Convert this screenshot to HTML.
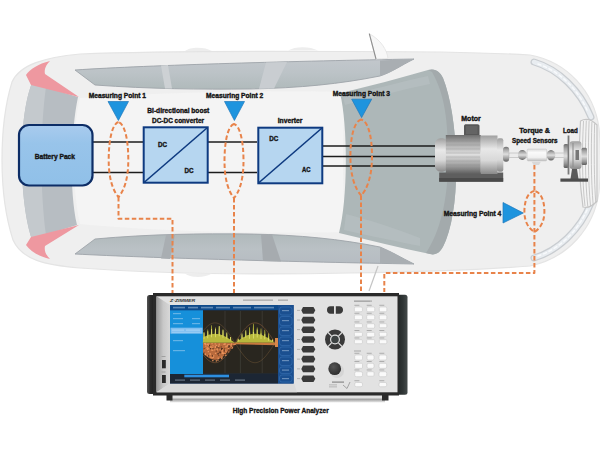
<!DOCTYPE html>
<html><head><meta charset="utf-8">
<style>
html,body{margin:0;padding:0;background:#fff;width:600px;height:450px;overflow:hidden}
svg{display:block}
text{font-family:"Liberation Sans",sans-serif;font-weight:bold;fill:#151515;stroke:#151515;stroke-width:0.35px}
</style></head><body>
<svg width="600" height="450" viewBox="0 0 600 450">
<defs>
<linearGradient id="bp" x1="0" y1="0" x2="0" y2="1"><stop offset="0" stop-color="#a9cbee"/><stop offset="0.3" stop-color="#98c4ea"/><stop offset="1" stop-color="#90c0e8"/></linearGradient>
<linearGradient id="cyl" x1="0" y1="0" x2="0" y2="1"><stop offset="0" stop-color="#6e6e6e"/><stop offset="0.2" stop-color="#a8a8a8"/><stop offset="0.5" stop-color="#dedede"/><stop offset="0.8" stop-color="#9a9a9a"/><stop offset="1" stop-color="#5e5e5e"/></linearGradient>
<linearGradient id="cyl2" x1="0" y1="0" x2="0" y2="1"><stop offset="0" stop-color="#a0a0a0"/><stop offset="0.35" stop-color="#e8e8e8"/><stop offset="0.65" stop-color="#d8d8d8"/><stop offset="1" stop-color="#8a8a8a"/></linearGradient>
<linearGradient id="hdl" x1="0" y1="0" x2="1" y2="0"><stop offset="0" stop-color="#555"/><stop offset="0.4" stop-color="#2c2c2c"/><stop offset="1" stop-color="#1e1e1e"/></linearGradient>
<linearGradient id="gray3" x1="0" y1="0" x2="1" y2="0"><stop offset="0" stop-color="#b9bfc2"/><stop offset="1" stop-color="#b2b8bb"/></linearGradient>
<linearGradient id="winT" x1="0" y1="0" x2="0" y2="1"><stop offset="0" stop-color="#c2c7cc"/><stop offset="0.45" stop-color="#bcc3c7"/><stop offset="1" stop-color="#b0babb"/></linearGradient><linearGradient id="winB" x1="0" y1="1" x2="0" y2="0"><stop offset="0" stop-color="#b6bcc2"/><stop offset="0.5" stop-color="#bac1c5"/><stop offset="1" stop-color="#b0b9bb"/></linearGradient>
<radialGradient id="knob" cx="0.4" cy="0.35" r="0.7"><stop offset="0" stop-color="#555"/><stop offset="1" stop-color="#2a2a2a"/></radialGradient>
</defs>
<rect width="600" height="450" fill="#fff"/>

<!-- ===== car body ===== -->
<path d="M80,54 C150,51 250,51 350,51.5 C420,51.5 480,52 530,55 C568,62 594,92 599,128 C601,148 601,172 599,192 C594,228 568,258 530,266 C480,270 420,272 350,273 C250,275 150,273 80,268 C45,265 22,260 13,240 C4,212 2,185 2,160 C2,135 4,108 12,82 C20,64 45,57.5 80,54 Z" fill="#efefef" stroke="#e4e4e4" stroke-width="1.2"/>
<g fill="#ededed"><path d="M185,51 C190,46.5 205,46.5 212,51 Z"/><path d="M288,50.5 C295,46 310,46 318,50.5 Z"/><path d="M185,273.5 C190,278 205,278 212,273.5 Z"/></g>
<!-- cabin light -->
<path d="M80,98 C160,92 280,90 346,92 C342,130 342,190 346,232 C280,234 160,232 80,224 C72,190 72,130 80,98 Z" fill="#f4f4f4"/>
<!-- rear gray band -->
<path d="M32,83 L78,97 C71,130 69,190 77,225 L32,239 C20,205 17,120 32,83 Z" fill="#b7bdc2"/>
<path d="M32,83 L46,87 C40,130 40,190 46,235 L32,239 C20,205 17,120 32,83 Z" fill="#c4c9cd"/>
<!-- tail lights -->
<path d="M26,75 C30,69 38,64 50,61 C46,65 44,69 45,74 L79,97 L31,85 Z" fill="#ee98a0"/>
<path d="M26,245 C30,251 38,256 50,259 C46,255 44,251 45,246 L79,225 L31,237 Z" fill="#ee98a0"/>
<!-- top window -->
<path d="M75,70 C150,65 300,61 414,59 C400,66 392,72 380,76 C340,84 300,88 250,89 C200,89.5 150,89 95,85 Z" fill="url(#winT)" stroke="#9ea4a9" stroke-width="0.9"/>
<path d="M161,65.5 L168,65 L172,88.5 L165,88.5 Z" fill="#cdd1d4"/>
<path d="M266,62.5 L287,62 L274,88.5 L259,88.8 Z" fill="#c9cdd1"/>
<path d="M380,76 C392,72 400,66 414,59 L380,60.5 Z" fill="#a9aeb2"/>
<!-- bottom window -->
<path d="M75,254 C150,258 300,262 414,264 C400,257 392,252 380,247 C340,239 300,235 250,234 C200,233.5 150,234 95,239 Z" fill="url(#winB)" stroke="#9ea4a9" stroke-width="0.9"/>
<path d="M161,258.5 L170,259 L175,235 L166,235 Z" fill="#a9aeb2"/>
<path d="M263,261 L281,261.5 L272,234.5 L261,234.3 Z" fill="#a6abaf"/>
<path d="M380,247 C392,252 400,257 414,264 L380,263 Z" fill="#a9aeb2"/>
<!-- mirror -->
<path d="M369.3,33.7 L376,59 L388,58.5 C387,50 381,40 369.3,33.7 Z" fill="#f7f7f7" stroke="#e2e2e2" stroke-width="0.8"/><path d="M369.3,33.7 L376,59" stroke="#8e8e8e" stroke-width="1.1"/>
<path d="M369,291 L378,266" stroke="#c4c4c4" stroke-width="1.2"/>
<!-- gray interior (firewall) -->
<path d="M341,93 C370,86 400,78 428,70 C436,68 440,72 443,78 C458,115 462,200 446,240 C442,250 438,256 430,254 C400,248 370,240 339,233 C348,200 348,125 340,93 Z" fill="#adb7b8"/>
<path d="M428,70 C436,68 440,72 443,78 C458,115 462,200 446,240 C442,250 438,256 430,254 L426,253 C440,232 448,200 448,160 C448,120 445,95 432,72 Z" fill="#a3aaac"/>
<path d="M343,97 C370,90 400,82 428,76 L430,84 C400,90 372,98 345,105 Z" fill="#bcc3c5" opacity="0.5"/>
<path d="M346,214 C370,220 400,230 420,238 L420,246 C400,242 370,236 344,230 Z" fill="#bcc3c5" opacity="0.5"/>
<!-- headlights -->
<g fill="none" stroke-linecap="round">
<path d="M534,62 C558,69 580,90 591,117" stroke="#c9cdd1" stroke-width="7"/>
<path d="M534,62 C558,69 580,90 591,117" stroke="#e9edf1" stroke-width="4.5"/>
<path d="M538,64 C559,71 577,88 587,110" stroke="#f8fafc" stroke-width="1.5" stroke-dasharray="3,3"/>
<path d="M534,258 C558,251 580,230 591,203" stroke="#c9cdd1" stroke-width="7"/>
<path d="M534,258 C558,251 580,230 591,203" stroke="#e9edf1" stroke-width="4.5"/>
<path d="M538,256 C559,249 577,232 587,210" stroke="#f8fafc" stroke-width="1.5" stroke-dasharray="3,3"/>
</g>
<!-- grille -->
<path d="M580.5,121 C586,118 592,120 597,125 L597,201 C592,207 587,208 583,207 C579,180 578.5,150 580.5,121 Z" fill="#f3f3f3" stroke="#c6c6c6" stroke-width="1.2"/>
<g stroke="#c2c2c2" stroke-width="0.9" fill="none">
<path d="M583.5,121 C582,150 582,180 585,206"/><path d="M586.3,120.5 C585,150 585,180 587.8,206.5"/><path d="M589.1,121 C588,150 588,180 590.5,206"/><path d="M591.9,122 C591,150 591,180 593.2,205"/><path d="M594.6,123.5 C594,150 594,180 595.8,203"/>
</g>
<!-- ===== power lines ===== -->
<g stroke="#1c1c1c" stroke-width="1.7">
<line x1="92" y1="142" x2="143" y2="142"/><line x1="92" y1="172.5" x2="143" y2="172.5"/>
<line x1="208" y1="142" x2="257" y2="142"/><line x1="208" y1="172.5" x2="257" y2="172.5"/>
<line x1="323" y1="146" x2="437" y2="146"/><line x1="323" y1="156.5" x2="437" y2="156.5"/><line x1="323" y1="166" x2="437" y2="166"/>
</g>

<!-- ===== blocks ===== -->
<rect x="19" y="125" width="73.5" height="60.5" rx="10" fill="url(#bp)" stroke="#0d2d66" stroke-width="2.2"/>
<rect x="143.7" y="127.3" width="64" height="55.4" fill="#b6d6f0" stroke="#0e3a80" stroke-width="2"/>
<line x1="144" y1="182.5" x2="207.5" y2="127.5" stroke="#0e3a80" stroke-width="1.6"/>
<rect x="258.3" y="127.7" width="64" height="55.6" fill="#b6d6f0" stroke="#0e3a80" stroke-width="2"/>
<line x1="258.5" y1="183" x2="322" y2="128" stroke="#0e3a80" stroke-width="1.6"/>

<!-- ===== texts ===== -->
<g font-size="6.3">
<text x="34.7" y="159" textLength="40.3" lengthAdjust="spacingAndGlyphs">Battery Pack</text>
<text x="158" y="146.7" textLength="9" lengthAdjust="spacingAndGlyphs">DC</text>
<text x="184.4" y="173.3" textLength="9" lengthAdjust="spacingAndGlyphs">DC</text>
<text x="269.3" y="140.7" textLength="9" lengthAdjust="spacingAndGlyphs">DC</text>
<text x="302" y="171.8" textLength="8.5" lengthAdjust="spacingAndGlyphs">AC</text>
<text x="88.7" y="97.7" textLength="57.3" lengthAdjust="spacingAndGlyphs">Measuring Point 1</text>
<text x="206" y="97.7" textLength="57.3" lengthAdjust="spacingAndGlyphs">Measuring Point 2</text>
<text x="332.7" y="95.7" textLength="57.3" lengthAdjust="spacingAndGlyphs">Measuring Point 3</text>
<text x="443.7" y="215.7" textLength="57.6" lengthAdjust="spacingAndGlyphs">Measuring Point 4</text>
<text x="147.3" y="112.9" textLength="62" lengthAdjust="spacingAndGlyphs">Bi-directional boost</text>
<text x="152" y="122.7" textLength="52" lengthAdjust="spacingAndGlyphs">DC-DC converter</text>
<text x="277.7" y="122.7" textLength="24.7" lengthAdjust="spacingAndGlyphs">Inverter</text>
<text x="461.3" y="120.7" textLength="19.4" lengthAdjust="spacingAndGlyphs">Motor</text>
<text x="519.2" y="133.3" textLength="30.8" lengthAdjust="spacingAndGlyphs">Torque  &amp;</text>
<text x="512" y="143" textLength="45.5" lengthAdjust="spacingAndGlyphs">Speed Sensors</text>
<text x="563" y="132.5" textLength="14.8" lengthAdjust="spacingAndGlyphs">Load</text>
</g>
<text x="232.7" y="413" font-size="7" textLength="96" lengthAdjust="spacingAndGlyphs">High Precision Power Analyzer</text>

<!-- ===== triangles ===== -->
<g fill="#1e94de" stroke="#1f78bc" stroke-width="0.7" stroke-linejoin="round">
<path d="M108,101.5 L128.5,101.5 L118.4,120.5 Z"/>
<path d="M224.5,101.5 L244.5,101.5 L234.4,120.5 Z"/>
<path d="M351.7,99.2 L371.7,99.2 L361.6,117.6 Z"/>
<path d="M503,202.5 L523.3,213 L503,223 Z"/>
</g>

<!-- ===== dashed lenses & lines ===== -->
<g fill="none" stroke="#e8834a" stroke-width="2" stroke-dasharray="4.5,2.5" stroke-linejoin="round">
<path d="M118.5,122 C112.4,123.9 108.7,139.1 108.7,160.0 C108.7,180.3 113.6,191.4 118.5,197 C123.4,191.4 128.3,180.3 128.3,160.0 C128.3,139.1 124.6,123.9 118.5,122 Z"/>
<path d="M234,124 C228.1,125.8 224.5,140.7 224.5,161.0 C224.5,181.3 229.2,192.4 234,198 C238.8,192.4 243.5,181.3 243.5,161.0 C243.5,140.7 239.9,125.8 234,124 Z"/>
<path d="M361.2,119.5 C354.5,121.3 350.4,135.9 350.4,156.0 C350.4,177.7 355.8,189.6 361.2,195.5 C366.6,189.6 372.0,177.7 372.0,156.0 C372.0,135.9 367.9,121.3 361.2,119.5 Z"/>
<path d="M534.4,191 C528.2,192.0 524.4,200.2 524.4,211.5 C524.4,222.8 529.4,228.9 534.4,232 C539.4,228.9 544.4,222.8 544.4,211.5 C544.4,200.2 540.6,192.0 534.4,191 Z"/>
<path d="M118.5,197 L118.5,218.7 L172.5,218.7 L172.5,293"/>
<path d="M234,198 L234,293"/>
<path d="M361,195.5 L361,292"/>
<path d="M534.4,165 L534.4,273 L384.3,273 L384.3,292"/>
</g>

<!-- ===== motor ===== -->
<path d="M464,135.8 L464,126 C464,124.8 465,124.2 466,124.2 L477.5,124.2 C478.7,124.2 479.5,125 479.5,126 L479.5,135.8 Z" fill="#585858"/>
<rect x="466" y="126" width="11.5" height="8" fill="#646464"/>
<rect x="439.2" y="172.5" width="64" height="9.2" fill="#5e5e5e"/>
<rect x="439.2" y="178" width="64" height="3.7" fill="#4a4a4a"/>
<rect x="435" y="138.3" width="13" height="33.4" rx="5.5" fill="url(#cyl2)"/>
<rect x="445.8" y="135" width="35" height="39" fill="url(#cyl)"/>
<g stroke="#8a8a8a" stroke-width="0.45" opacity="0.7"><line x1="446" y1="141" x2="480" y2="141"/><line x1="446" y1="145" x2="480" y2="145"/><line x1="446" y1="149" x2="480" y2="149"/><line x1="446" y1="153" x2="480" y2="153"/><line x1="446" y1="157" x2="480" y2="157"/><line x1="446" y1="161" x2="480" y2="161"/><line x1="446" y1="165" x2="480" y2="165"/><line x1="446" y1="169" x2="480" y2="169"/></g>
<rect x="480.8" y="135.5" width="16.7" height="38.5" fill="url(#cyl2)"/>
<rect x="497" y="138.3" width="6.3" height="33.4" rx="2" fill="url(#cyl2)"/>
<rect x="503" y="146.7" width="6.2" height="15" rx="3" fill="url(#cyl)"/>
<rect x="509" y="153" width="56" height="4.3" fill="#ececec" stroke="#a8a8a8" stroke-width="0.5"/>
<!-- torque sensor -->
<ellipse cx="522.3" cy="155" rx="4.4" ry="5" fill="url(#cyl)"/>
<ellipse cx="551" cy="155.2" rx="4.3" ry="5.2" fill="url(#cyl)"/>
<defs><linearGradient id="tq" x1="0" y1="0" x2="0" y2="1"><stop offset="0" stop-color="#dcdcdc"/><stop offset="0.3" stop-color="#fafafa"/><stop offset="0.7" stop-color="#f0f0f0"/><stop offset="1" stop-color="#bcbcbc"/></linearGradient></defs><rect x="527.2" y="149" width="19.5" height="12" rx="1" fill="url(#tq)" stroke="#c4c4c4" stroke-width="0.5"/>
<path d="M531.7,161.7 L540.8,161.7 L539,165 L533.5,165 Z" fill="#d8d8d8"/>
<!-- load -->
<path d="M572,169 L577,169 L578.5,179 L570.5,179 Z" fill="#5a5a5a"/>
<rect x="560.4" y="178.5" width="27.6" height="3.2" fill="#4e4e4e"/>
<rect x="563.6" y="144" width="5" height="24" rx="1.5" fill="url(#cyl)"/>
<rect x="567.6" y="135.5" width="1.8" height="39" fill="#7a7a7a"/>
<rect x="569.5" y="141.3" width="12" height="27.7" rx="3" fill="url(#cyl2)"/>
<rect x="572.5" y="143" width="1" height="24" fill="#8a8a8a"/>
<rect x="575.5" y="150" width="3.5" height="10" fill="#777"/>
<rect x="581.5" y="147.7" width="5.5" height="17.3" rx="1.5" fill="url(#cyl)"/>
<!-- ===== analyzer ===== -->
<defs>
<linearGradient id="base" x1="0" y1="0" x2="0" y2="1"><stop offset="0" stop-color="#e4e4e4"/><stop offset="0.4" stop-color="#e0e0e0"/><stop offset="0.55" stop-color="#9c9c9c"/><stop offset="1" stop-color="#ececec"/></linearGradient>
<linearGradient id="bevL" x1="0" y1="0" x2="1" y2="0"><stop offset="0" stop-color="#9a9a9a"/><stop offset="0.5" stop-color="#c8c8c8"/><stop offset="1" stop-color="#d8d8d8"/></linearGradient>
<linearGradient id="hdlR" x1="0" y1="0" x2="1" y2="0"><stop offset="0" stop-color="#1f2323"/><stop offset="0.6" stop-color="#2f3535"/><stop offset="1" stop-color="#454b4b"/></linearGradient>
</defs>
<rect x="170" y="395" width="215" height="7.5" fill="url(#base)"/>
<rect x="166.5" y="394" width="6" height="6.5" fill="#2a2a2a"/>
<rect x="382" y="394" width="6.5" height="6.5" fill="#2a2a2a"/>
<rect x="147" y="295" width="8" height="99" rx="2.5" fill="url(#hdl)"/>
<rect x="396" y="294.7" width="11.5" height="100" rx="2.5" fill="url(#hdlR)"/>
<rect x="153" y="293" width="246" height="102.5" fill="#2a2a2a"/>
<rect x="156.5" y="296.3" width="241" height="96" fill="#e2e2e2"/>
<path d="M156.5,296.3 L170,305 L170,383.5 L156.5,392.3 Z" fill="url(#bevL)"/>
<path d="M156.5,392.3 L170,383.5 L294,383.5 L297,392.3 Z" fill="#dadada"/>
<rect x="162" y="360" width="3.8" height="8.3" fill="#2a2a2a"/><rect x="162" y="375" width="3.8" height="8" fill="#2a2a2a"/>
<rect x="161.5" y="356" width="4" height="1" fill="#a0a0a0"/><rect x="161.5" y="371.5" width="4" height="1" fill="#a0a0a0"/>
<!-- screen -->
<rect x="170" y="305" width="123.6" height="78.5" fill="#123c78"/>
<rect x="170" y="305" width="108" height="5.3" fill="#0f4a8a"/>
<rect x="170" y="310.3" width="33" height="63.7" fill="#1690da"/>
<rect x="170.5" y="327.7" width="32" height="6" fill="#80bff0"/>
<rect x="203" y="310.3" width="75" height="63.5" fill="#29261f"/>
<rect x="278" y="305" width="15.6" height="78.5" fill="#1a4f90"/>
<g fill="none" stroke="#3f78bb" stroke-width="0.5">
<rect x="279.5" y="307" width="12.5" height="8" rx="2.5"/><rect x="279.5" y="316.5" width="12.5" height="9" rx="2.5"/><rect x="279.5" y="327" width="12.5" height="8.5" rx="2.5"/><rect x="279.5" y="337" width="12.5" height="8.5" rx="2.5"/><rect x="279.5" y="347" width="12.5" height="8.5" rx="2.5"/><rect x="279.5" y="357" width="12.5" height="8.5" rx="2.5"/><rect x="279.5" y="367" width="12.5" height="6.5" rx="2.5"/><rect x="279.5" y="375" width="12.5" height="7" rx="2.5"/>
</g>
<rect x="170" y="374" width="108" height="9.5" fill="#1c2634"/>
<rect x="184.3" y="374.7" width="44.7" height="2.6" fill="#2d8fe0"/>
<g stroke="#4d4b44" stroke-width="0.5"><line x1="225" y1="311" x2="225" y2="373"/><line x1="240.4" y1="311" x2="240.4" y2="373"/><line x1="262.2" y1="311" x2="262.2" y2="373"/></g>
<g fill="#d8e8f8" opacity="0.4">
<rect x="173" y="306.8" width="12" height="1.6"/><rect x="188" y="306.8" width="10" height="1.6"/><rect x="201" y="306.8" width="12" height="1.6"/><rect x="216" y="306.8" width="14" height="1.6"/><rect x="233" y="306.8" width="18" height="1.6"/><rect x="254" y="306.8" width="20" height="1.6"/>
<rect x="173" y="313" width="8" height="1.2"/><rect x="173" y="318" width="10" height="1.2"/><rect x="192" y="318" width="8" height="1.2"/><rect x="173" y="323" width="10" height="1.2"/><rect x="192" y="323" width="8" height="1.2"/><rect x="173" y="340" width="10" height="1.2"/><rect x="173" y="350" width="12" height="1.2"/>
<rect x="282" y="310" width="7" height="1.2"/><rect x="282" y="320" width="7" height="1.2"/><rect x="282" y="330" width="7" height="1.2"/><rect x="282" y="340" width="7" height="1.2"/><rect x="282" y="350" width="7" height="1.2"/><rect x="282" y="360" width="7" height="1.2"/><rect x="282" y="369.5" width="7" height="1.2"/><rect x="282" y="378" width="7" height="1.2"/>
<rect x="175" y="379.5" width="10" height="1.2"/><rect x="190" y="379.5" width="10" height="1.2"/><rect x="205" y="379.5" width="10" height="1.2"/><rect x="220" y="379.5" width="10" height="1.2"/><rect x="235" y="379.5" width="10" height="1.2"/>
</g>
<g fill="#b8dcf8" opacity="0.7"><rect x="172" y="329.5" width="12" height="1.2"/><rect x="186" y="329.5" width="14" height="1.2"/><rect x="172" y="331.8" width="28" height="0.8"/></g>
<!-- waveform -->
<path d="M203,342.8 L203.0,352.8 L203.5,353.3 L204.0,353.8 L204.5,354.3 L205.0,354.8 L205.5,355.3 L206.0,355.7 L206.5,356.2 L207.0,356.6 L207.5,356.9 L208.0,357.3 L208.5,357.6 L209.0,357.9 L209.5,358.2 L210.0,358.5 L210.5,358.7 L211.0,359.0 L211.5,359.2 L212.0,359.3 L212.5,359.5 L213.0,359.6 L213.5,359.7 L214.0,359.7 L214.5,359.8 L215.0,359.8 L215.5,359.8 L216.0,359.7 L216.5,359.7 L217.0,359.6 L217.5,359.5 L218.0,359.3 L218.5,359.2 L219.0,359.0 L219.5,358.7 L220.0,358.5 L220.5,358.2 L221.0,357.9 L221.5,357.6 L222.0,357.3 L222.5,356.9 L223.0,356.6 L223.5,356.2 L224.0,355.7 L224.5,355.3 L225.0,354.8 L225.5,354.3 L226.0,353.8 L226.5,353.3 L227.0,352.8 L227.5,352.2 L228.0,351.7 L228.5,351.1 L229.0,350.5 L229.5,349.9 L230.0,349.3 L230.5,348.7 L231.0,348.1 L231.5,347.4 L232.0,346.8 L232.5,346.1 L233.0,345.5 L233.5,344.8 L234.0,344.1 L234.5,343.5 L235.0,342.8 L235,342.8 Z" fill="#b86a3c"/>
<path d="M215.7,360.3 h1.3 v1.3 h-1.3 Z M204.5,353.3 h1.3 v1.3 h-1.3 Z M212.3,345.3 h1.3 v1.3 h-1.3 Z M206.8,347.2 h1.3 v1.3 h-1.3 Z M229.1,344.3 h1.3 v1.3 h-1.3 Z M221.6,352.8 h1.3 v1.3 h-1.3 Z M214.9,352.7 h1.3 v1.3 h-1.3 Z M205.0,343.6 h1.3 v1.3 h-1.3 Z M209.6,354.0 h1.3 v1.3 h-1.3 Z M216.7,348.4 h1.3 v1.3 h-1.3 Z M221.7,349.8 h1.3 v1.3 h-1.3 Z M212.6,356.8 h1.3 v1.3 h-1.3 Z M225.4,345.8 h1.3 v1.3 h-1.3 Z M221.4,351.1 h1.3 v1.3 h-1.3 Z M231.0,346.9 h1.3 v1.3 h-1.3 Z M212.2,360.0 h1.3 v1.3 h-1.3 Z M206.8,348.8 h1.3 v1.3 h-1.3 Z M227.2,344.4 h1.3 v1.3 h-1.3 Z M218.6,343.5 h1.3 v1.3 h-1.3 Z M224.4,353.0 h1.3 v1.3 h-1.3 Z M221.3,356.6 h1.3 v1.3 h-1.3 Z M213.0,355.2 h1.3 v1.3 h-1.3 Z M222.0,351.7 h1.3 v1.3 h-1.3 Z M217.6,357.6 h1.3 v1.3 h-1.3 Z M233.2,344.0 h1.3 v1.3 h-1.3 Z M224.3,343.6 h1.3 v1.3 h-1.3 Z M225.4,350.7 h1.3 v1.3 h-1.3 Z M234.8,343.1 h1.3 v1.3 h-1.3 Z M212.1,349.6 h1.3 v1.3 h-1.3 Z M224.4,343.1 h1.3 v1.3 h-1.3 Z M217.8,345.8 h1.3 v1.3 h-1.3 Z M206.7,343.6 h1.3 v1.3 h-1.3 Z M227.6,344.1 h1.3 v1.3 h-1.3 Z M210.9,349.5 h1.3 v1.3 h-1.3 Z M230.9,343.3 h1.3 v1.3 h-1.3 Z M217.4,352.5 h1.3 v1.3 h-1.3 Z M231.3,347.1 h1.3 v1.3 h-1.3 Z M230.6,344.5 h1.3 v1.3 h-1.3 Z M216.3,349.2 h1.3 v1.3 h-1.3 Z M231.3,347.7 h1.3 v1.3 h-1.3 Z M207.8,345.5 h1.3 v1.3 h-1.3 Z M210.4,346.7 h1.3 v1.3 h-1.3 Z M218.5,353.0 h1.3 v1.3 h-1.3 Z M211.4,342.9 h1.3 v1.3 h-1.3 Z M216.4,349.4 h1.3 v1.3 h-1.3 Z M221.1,358.0 h1.3 v1.3 h-1.3 Z M225.1,349.3 h1.3 v1.3 h-1.3 Z M222.8,352.8 h1.3 v1.3 h-1.3 Z M204.7,354.0 h1.3 v1.3 h-1.3 Z M228.0,351.1 h1.3 v1.3 h-1.3 Z M228.5,346.2 h1.3 v1.3 h-1.3 Z M215.8,344.7 h1.3 v1.3 h-1.3 Z M223.3,343.7 h1.3 v1.3 h-1.3 Z M205.2,345.5 h1.3 v1.3 h-1.3 Z M208.2,348.1 h1.3 v1.3 h-1.3 Z M204.7,342.8 h1.3 v1.3 h-1.3 Z M207.8,344.3 h1.3 v1.3 h-1.3 Z M214.6,343.3 h1.3 v1.3 h-1.3 Z M231.0,346.2 h1.3 v1.3 h-1.3 Z M207.8,346.6 h1.3 v1.3 h-1.3 Z M214.1,349.3 h1.3 v1.3 h-1.3 Z M206.9,355.1 h1.3 v1.3 h-1.3 Z M234.8,342.9 h1.3 v1.3 h-1.3 Z M218.5,344.3 h1.3 v1.3 h-1.3 Z M206.3,347.6 h1.3 v1.3 h-1.3 Z M211.5,357.2 h1.3 v1.3 h-1.3 Z M208.2,343.2 h1.3 v1.3 h-1.3 Z M233.4,344.0 h1.3 v1.3 h-1.3 Z M207.7,351.0 h1.3 v1.3 h-1.3 Z M203.9,348.9 h1.3 v1.3 h-1.3 Z M234.3,343.6 h1.3 v1.3 h-1.3 Z M225.3,346.1 h1.3 v1.3 h-1.3 Z M214.7,345.8 h1.3 v1.3 h-1.3 Z M227.7,348.0 h1.3 v1.3 h-1.3 Z M227.9,345.9 h1.3 v1.3 h-1.3 Z M210.1,356.4 h1.3 v1.3 h-1.3 Z M234.5,343.4 h1.3 v1.3 h-1.3 Z M228.8,349.7 h1.3 v1.3 h-1.3 Z M226.7,345.3 h1.3 v1.3 h-1.3 Z M219.6,348.8 h1.3 v1.3 h-1.3 Z M203.9,343.1 h1.3 v1.3 h-1.3 Z M211.9,347.3 h1.3 v1.3 h-1.3 Z M225.2,354.8 h1.3 v1.3 h-1.3 Z M217.3,359.4 h1.3 v1.3 h-1.3 Z M234.6,343.3 h1.3 v1.3 h-1.3 Z M214.7,346.8 h1.3 v1.3 h-1.3 Z M210.3,346.1 h1.3 v1.3 h-1.3 Z M209.5,353.0 h1.3 v1.3 h-1.3 Z M231.8,346.6 h1.3 v1.3 h-1.3 Z M218.3,354.2 h1.3 v1.3 h-1.3 Z" fill="#e8925a"/>
<path d="M228.6,345.3 h1.2 v1.2 h-1.2 Z M224.1,353.9 h1.2 v1.2 h-1.2 Z M228.0,349.5 h1.2 v1.2 h-1.2 Z M218.3,347.2 h1.2 v1.2 h-1.2 Z M228.3,346.8 h1.2 v1.2 h-1.2 Z M228.6,350.3 h1.2 v1.2 h-1.2 Z M215.7,350.4 h1.2 v1.2 h-1.2 Z M233.3,345.2 h1.2 v1.2 h-1.2 Z M208.4,346.3 h1.2 v1.2 h-1.2 Z M207.8,355.2 h1.2 v1.2 h-1.2 Z M228.8,345.6 h1.2 v1.2 h-1.2 Z M229.4,349.5 h1.2 v1.2 h-1.2 Z M224.0,348.4 h1.2 v1.2 h-1.2 Z M220.6,346.4 h1.2 v1.2 h-1.2 Z M203.5,352.4 h1.2 v1.2 h-1.2 Z M223.8,350.2 h1.2 v1.2 h-1.2 Z M232.9,345.1 h1.2 v1.2 h-1.2 Z M230.9,347.3 h1.2 v1.2 h-1.2 Z M209.8,348.0 h1.2 v1.2 h-1.2 Z M212.4,348.1 h1.2 v1.2 h-1.2 Z M221.8,347.9 h1.2 v1.2 h-1.2 Z M216.4,346.6 h1.2 v1.2 h-1.2 Z M232.1,345.4 h1.2 v1.2 h-1.2 Z M217.7,352.8 h1.2 v1.2 h-1.2 Z M231.9,345.6 h1.2 v1.2 h-1.2 Z M232.4,345.4 h1.2 v1.2 h-1.2 Z M220.0,351.5 h1.2 v1.2 h-1.2 Z M203.6,348.3 h1.2 v1.2 h-1.2 Z M208.9,344.8 h1.2 v1.2 h-1.2 Z M228.6,345.8 h1.2 v1.2 h-1.2 Z M218.2,354.6 h1.2 v1.2 h-1.2 Z M220.8,348.8 h1.2 v1.2 h-1.2 Z M219.6,352.0 h1.2 v1.2 h-1.2 Z M228.1,345.5 h1.2 v1.2 h-1.2 Z M220.9,347.9 h1.2 v1.2 h-1.2 Z M211.9,355.2 h1.2 v1.2 h-1.2 Z M219.2,352.2 h1.2 v1.2 h-1.2 Z M227.3,351.3 h1.2 v1.2 h-1.2 Z M217.2,353.2 h1.2 v1.2 h-1.2 Z M219.2,351.5 h1.2 v1.2 h-1.2 Z" fill="#5a3420"/>
<path d="M203,342.8 L203.0,337.5 L203.5,337.2 L204.0,337.0 L204.5,336.7 L205.0,336.4 L205.5,336.2 L206.0,336.0 L206.5,335.7 L207.0,335.5 L207.5,335.3 L208.0,335.1 L208.5,334.9 L209.0,334.8 L209.5,334.6 L210.0,334.5 L210.5,334.4 L211.0,334.2 L211.5,334.1 L212.0,334.0 L212.5,334.0 L213.0,333.9 L213.5,333.9 L214.0,333.8 L214.5,333.8 L215.0,333.8 L215.5,333.8 L216.0,333.8 L216.5,333.9 L217.0,333.9 L217.5,334.0 L218.0,334.0 L218.5,334.1 L219.0,334.2 L219.5,334.4 L220.0,334.5 L220.5,334.6 L221.0,334.8 L221.5,334.9 L222.0,335.1 L222.5,335.3 L223.0,335.5 L223.5,335.7 L224.0,336.0 L224.5,336.2 L225.0,336.4 L225.5,336.7 L226.0,337.0 L226.5,337.2 L227.0,337.5 L227.5,337.8 L228.0,338.1 L228.5,338.4 L229.0,338.7 L229.5,339.0 L230.0,339.4 L230.5,339.7 L231.0,340.0 L231.5,340.4 L232.0,340.7 L232.5,341.0 L233.0,341.4 L233.5,341.7 L234.0,342.1 L234.5,342.4 L235.0,342.8 L235.5,342.4 L236.0,342.1 L236.5,341.7 L237.0,341.4 L237.5,341.0 L238.0,340.7 L238.5,340.4 L239.0,340.0 L239.5,339.7 L240.0,339.4 L240.5,339.0 L241.0,338.7 L241.5,338.4 L242.0,338.1 L242.5,337.8 L243.0,337.5 L243.5,337.2 L244.0,337.0 L244.5,336.7 L245.0,336.4 L245.5,336.2 L246.0,336.0 L246.5,335.7 L247.0,335.5 L247.5,335.3 L248.0,335.1 L248.5,334.9 L249.0,334.8 L249.5,334.6 L250.0,334.5 L250.5,334.4 L251.0,334.2 L251.5,334.1 L252.0,334.0 L252.5,334.0 L253.0,333.9 L253.5,333.9 L254.0,333.8 L254.5,333.8 L255.0,333.8 L255.5,333.8 L256.0,333.8 L256.5,333.9 L257.0,333.9 L257.5,334.0 L258.0,334.0 L258.5,334.1 L259.0,334.2 L259.5,334.4 L260.0,334.5 L260.5,334.6 L261.0,334.8 L261.5,334.9 L262.0,335.1 L262.5,335.3 L263.0,335.5 L263.5,335.7 L264.0,336.0 L264.5,336.2 L265.0,336.4 L265.5,336.7 L266.0,337.0 L266.5,337.2 L267.0,337.5 L267.5,337.8 L268.0,338.1 L268.5,338.4 L269.0,338.7 L269.5,339.0 L270.0,339.4 L270.5,339.7 L271.0,340.0 L271.5,340.4 L272.0,340.7 L272.5,341.0 L273.0,341.4 L273.5,341.7 L274.0,342.1 L274.5,342.4 L275.0,342.8 L275.5,342.4 L276.0,342.1 L276.5,341.7 L277.0,341.4 L277,342.8 Z M202.8,342.8 L203.7,332.0 L204.3,332.0 L205.2,342.8 Z M206.6,342.8 L207.5,329.5 L208.1,329.5 L209.0,342.8 Z M210.4,342.8 L211.3,325.2 L211.9,325.2 L212.8,342.8 Z M214.2,342.8 L215.1,327.4 L215.7,327.4 L216.6,342.8 Z M218.0,342.8 L218.9,326.1 L219.5,326.1 L220.4,342.8 Z M221.8,342.8 L222.7,329.2 L223.3,329.2 L224.2,342.8 Z M225.6,342.8 L226.5,333.6 L227.1,333.6 L228.0,342.8 Z M229.4,342.8 L230.3,336.9 L230.9,336.9 L231.8,342.8 Z M237.0,342.8 L237.9,338.5 L238.5,338.5 L239.4,342.8 Z M240.8,342.8 L241.7,334.8 L242.3,334.8 L243.2,342.8 Z M244.6,342.8 L245.5,331.2 L246.1,331.2 L247.0,342.8 Z M248.4,342.8 L249.3,327.2 L249.9,327.2 L250.8,342.8 Z M252.2,342.8 L253.1,323.8 L253.7,323.8 L254.6,342.8 Z M256.0,342.8 L256.9,327.4 L257.5,327.4 L258.4,342.8 Z M259.8,342.8 L260.7,328.4 L261.3,328.4 L262.2,342.8 Z M263.6,342.8 L264.5,329.8 L265.1,329.8 L266.0,342.8 Z M267.4,342.8 L268.3,333.3 L268.9,333.3 L269.8,342.8 Z M271.2,342.8 L272.1,339.2 L272.7,339.2 L273.6,342.8 Z" fill="#b8b83c"/>
<path d="M203.6,332.7 h0.8 v6.1 h-0.8 Z M207.4,331.3 h0.8 v6.9 h-0.8 Z M211.2,329.0 h0.8 v8.3 h-0.8 Z M215.0,329.0 h0.8 v8.3 h-0.8 Z M218.8,326.2 h0.8 v10.0 h-0.8 Z M222.6,330.2 h0.8 v7.6 h-0.8 Z M226.4,332.6 h0.8 v6.1 h-0.8 Z M230.2,336.9 h0.8 v3.6 h-0.8 Z M237.8,339.2 h0.8 v2.2 h-0.8 Z M241.6,333.6 h0.8 v5.5 h-0.8 Z M245.4,330.3 h0.8 v7.5 h-0.8 Z M249.2,332.7 h0.8 v6.1 h-0.8 Z M253.0,331.9 h0.8 v6.5 h-0.8 Z M256.8,329.5 h0.8 v8.0 h-0.8 Z M260.6,333.4 h0.8 v5.7 h-0.8 Z M264.4,334.2 h0.8 v5.1 h-0.8 Z M268.2,337.7 h0.8 v3.1 h-0.8 Z M272.0,339.7 h0.8 v1.9 h-0.8 Z" fill="#e0e070"/>
<path d="M235,342.8 L277,342.8 L277,345.3 L235,344.3 Z" fill="#c8783e"/>
<path d="M203,354.6 L204.0,355.8 L206.0,358.0 L208.0,359.9 L210.0,361.3 L212.0,362.2 L214.0,362.7 L216.0,362.7 L218.0,362.2 L220.0,361.3 L222.0,359.9 L224.0,358.0 L226.0,355.8 L228.0,353.2 L230.0,350.5 L232.0,347.5 L234.0,344.4 L236.0,341.2 L238.0,338.1 L240.0,335.1 L242.0,332.4 L244.0,329.8 L246.0,327.6 L248.0,325.7 L250.0,324.3 L252.0,323.4 L254.0,322.9 L256.0,322.9 L258.0,323.4 L260.0,324.3 L262.0,325.7 L264.0,327.6 L266.0,329.8 L268.0,332.4 L270.0,335.1 L272.0,338.1 L274.0,341.2 L276.0,344.4" fill="none" stroke="#c07848" stroke-width="0.5" opacity="0.7"/>
<path d="M203,331.0 L204.0,329.8 L206.0,327.6 L208.0,325.7 L210.0,324.3 L212.0,323.4 L214.0,322.9 L216.0,322.9 L218.0,323.4 L220.0,324.3 L222.0,325.7 L224.0,327.6 L226.0,329.8 L228.0,332.4 L230.0,335.1 L232.0,338.1 L234.0,341.2 L236.0,344.4 L238.0,347.5 L240.0,350.5 L242.0,353.2 L244.0,355.8 L246.0,358.0 L248.0,359.9 L250.0,361.3 L252.0,362.2 L254.0,362.7 L256.0,362.7 L258.0,362.2 L260.0,361.3 L262.0,359.9 L264.0,358.0 L266.0,355.8 L268.0,353.2 L270.0,350.5 L272.0,347.5 L274.0,344.4 L276.0,341.2" fill="none" stroke="#c08a50" stroke-width="0.45" opacity="0.5"/>
<rect x="275" y="338" width="3" height="9" fill="#d8884a"/>
<!-- logo & panel text -->
<text x="170" y="301.7" font-size="4.4" font-style="italic" textLength="25.3" lengthAdjust="spacingAndGlyphs" style="fill:#3a3a3a;stroke:none">Z·ZIMMER</text>
<rect x="243" y="299.5" width="30" height="1.3" fill="#a8a8a8"/><rect x="278" y="299.5" width="10" height="1.3" fill="#a8a8a8"/>
<rect x="354" y="300.5" width="18" height="1.2" fill="#a8a8a8"/>
<!-- soft keys -->
<g fill="#3a3a3a">
<path d="M303,307 L313.5,307 L315.3,310.3 L313.5,313.7 L303,313.7 L301.3,310.3 Z"/>
<path d="M303,316.7 L313.5,316.7 L315.3,320 L313.5,323.4 L303,323.4 L301.3,320 Z"/>
<path d="M303,326.4 L313.5,326.4 L315.3,329.7 L313.5,333 L303,333 L301.3,329.7 Z"/>
<path d="M303,336.2 L313.5,336.2 L315.3,339.5 L313.5,342.8 L303,342.8 L301.3,339.5 Z"/>
<path d="M303,346 L313.5,346 L315.3,349.3 L313.5,352.6 L303,352.6 L301.3,349.3 Z"/>
<path d="M303,355.8 L313.5,355.8 L315.3,359.1 L313.5,362.4 L303,362.4 L301.3,359.1 Z"/>
<path d="M303,365.6 L313.5,365.6 L315.3,368.9 L313.5,372.2 L303,372.2 L301.3,368.9 Z"/>
<path d="M303,375.4 L313.5,375.4 L315.3,378.7 L313.5,382 L303,382 L301.3,378.7 Z"/>
<path d="M330.5,306.3 L334,306.3 L334,313.7 L330.5,313.7 C328,313.7 327,312 327,310 C327,308 328,306.3 330.5,306.3 Z"/>
<path d="M339.3,306.3 L335.8,306.3 L335.8,313.7 L339.3,313.7 C341.8,313.7 343,312 343,310 C343,308 341.8,306.3 339.3,306.3 Z"/>
<circle cx="335" cy="339.5" r="10"/>
</g>
<circle cx="335" cy="339.5" r="5" fill="#e2e2e2"/>
<circle cx="335" cy="339.5" r="3.8" fill="#3d4242"/>
<g stroke="#e2e2e2" stroke-width="1.1"><line x1="327.5" y1="332" x2="331.5" y2="336"/><line x1="342.5" y1="332" x2="338.5" y2="336"/><line x1="327.5" y1="347" x2="331.5" y2="343"/><line x1="342.5" y1="347" x2="338.5" y2="343"/></g>
<circle cx="337" cy="371" r="7" fill="#d0d0d0" opacity="0.7"/>
<circle cx="334.7" cy="368.7" r="6.4" fill="url(#knob)"/>
<!-- white keys -->
<g fill="#fafafa" stroke="#c0c0c0" stroke-width="0.5">
<rect x="354.4" y="307" width="8" height="4.7" rx="1.2"/><rect x="366.7" y="307" width="8" height="4.7" rx="1.2"/><rect x="379.3" y="307" width="7.5" height="4.7" rx="1.2"/>
<rect x="354.4" y="315" width="8" height="4.7" rx="1.2"/><rect x="366.7" y="315" width="8" height="4.7" rx="1.2"/><rect x="379.3" y="315" width="7.5" height="4.7" rx="1.2"/>
<rect x="354.4" y="323.7" width="8" height="4" rx="1"/><rect x="366.7" y="323.7" width="8" height="4.5" rx="1.2"/><rect x="379.3" y="323.7" width="7.5" height="4" rx="1"/>
<rect x="354.4" y="332.3" width="8" height="4" rx="1"/><rect x="366.7" y="332.3" width="8" height="4.5" rx="1.2"/><rect x="379.3" y="332.3" width="7.5" height="4" rx="1"/>
<rect x="354.4" y="339.7" width="8" height="4" rx="1"/><rect x="366.7" y="339.7" width="8" height="4" rx="1"/><rect x="379.3" y="339.7" width="7.5" height="4" rx="1"/>
<rect x="354.7" y="355" width="7.8" height="5" rx="1.2"/><rect x="367" y="355" width="7" height="5" rx="1.5"/><rect x="379" y="355" width="7.7" height="5" rx="1.5"/>
<rect x="354.7" y="363.3" width="7.8" height="5" rx="1"/><rect x="367" y="363.3" width="7" height="5" rx="1.5"/><rect x="379" y="363.3" width="7.7" height="5" rx="1.5"/>
<rect x="354.7" y="371.7" width="7.8" height="5" rx="1.5"/><rect x="367" y="371.7" width="7" height="4.5" rx="1"/><rect x="379" y="371.7" width="7.7" height="5" rx="1.5"/>
<rect x="354.7" y="382.5" width="7.8" height="4.2" rx="1.5"/><rect x="379" y="382.5" width="7.7" height="4.2" rx="1.5"/>
</g>
<g fill="#a8a8a8"><rect x="354.4" y="304.8" width="5" height="0.9"/><rect x="366.7" y="304.8" width="5" height="0.9"/><rect x="379.3" y="304.8" width="5" height="0.9"/><rect x="354.4" y="312.8" width="5" height="0.9"/><rect x="366.7" y="312.8" width="5" height="0.9"/><rect x="379.3" y="312.8" width="5" height="0.9"/><rect x="354.4" y="321.5" width="5" height="0.9"/><rect x="366.7" y="321.5" width="5" height="0.9"/><rect x="379.3" y="321.5" width="5" height="0.9"/><rect x="354.4" y="330.1" width="5" height="0.9"/><rect x="366.7" y="330.1" width="5" height="0.9"/><rect x="379.3" y="330.1" width="5" height="0.9"/><rect x="354.4" y="337.5" width="5" height="0.9"/><rect x="366.7" y="337.5" width="5" height="0.9"/><rect x="379.3" y="337.5" width="5" height="0.9"/><rect x="354.4" y="352.8" width="5" height="0.9"/><rect x="366.7" y="352.8" width="5" height="0.9"/><rect x="379.3" y="352.8" width="5" height="0.9"/><rect x="354.4" y="361.1" width="5" height="0.9"/><rect x="366.7" y="361.1" width="5" height="0.9"/><rect x="379.3" y="361.1" width="5" height="0.9"/><rect x="354.4" y="369.5" width="5" height="0.9"/><rect x="366.7" y="369.5" width="5" height="0.9"/><rect x="379.3" y="369.5" width="5" height="0.9"/><rect x="354.4" y="380.3" width="5" height="0.9"/><rect x="379.3" y="380.3" width="5" height="0.9"/><rect x="354" y="300.8" width="16" height="1"/><rect x="354" y="350.5" width="7" height="1"/><rect x="332" y="381.5" width="12" height="1.2" fill="#888"/><rect x="329" y="384.5" width="8" height="0.8"/><rect x="329" y="386.5" width="8" height="0.8"/><path d="M343,385 L347,388.5 L350,382" stroke="#777" stroke-width="0.6" fill="none"/><rect x="304" y="308.5" width="0" height="0"/><rect x="297" y="309.9" width="3" height="0.8"/><rect x="297" y="319.6" width="3" height="0.8"/><rect x="297" y="329.3" width="3" height="0.8"/><rect x="297" y="339.1" width="3" height="0.8"/><rect x="297" y="348.9" width="3" height="0.8"/><rect x="297" y="358.7" width="3" height="0.8"/><rect x="297" y="368.5" width="3" height="0.8"/><rect x="297" y="378.3" width="3" height="0.8"/></g>
</svg>
</body></html>
